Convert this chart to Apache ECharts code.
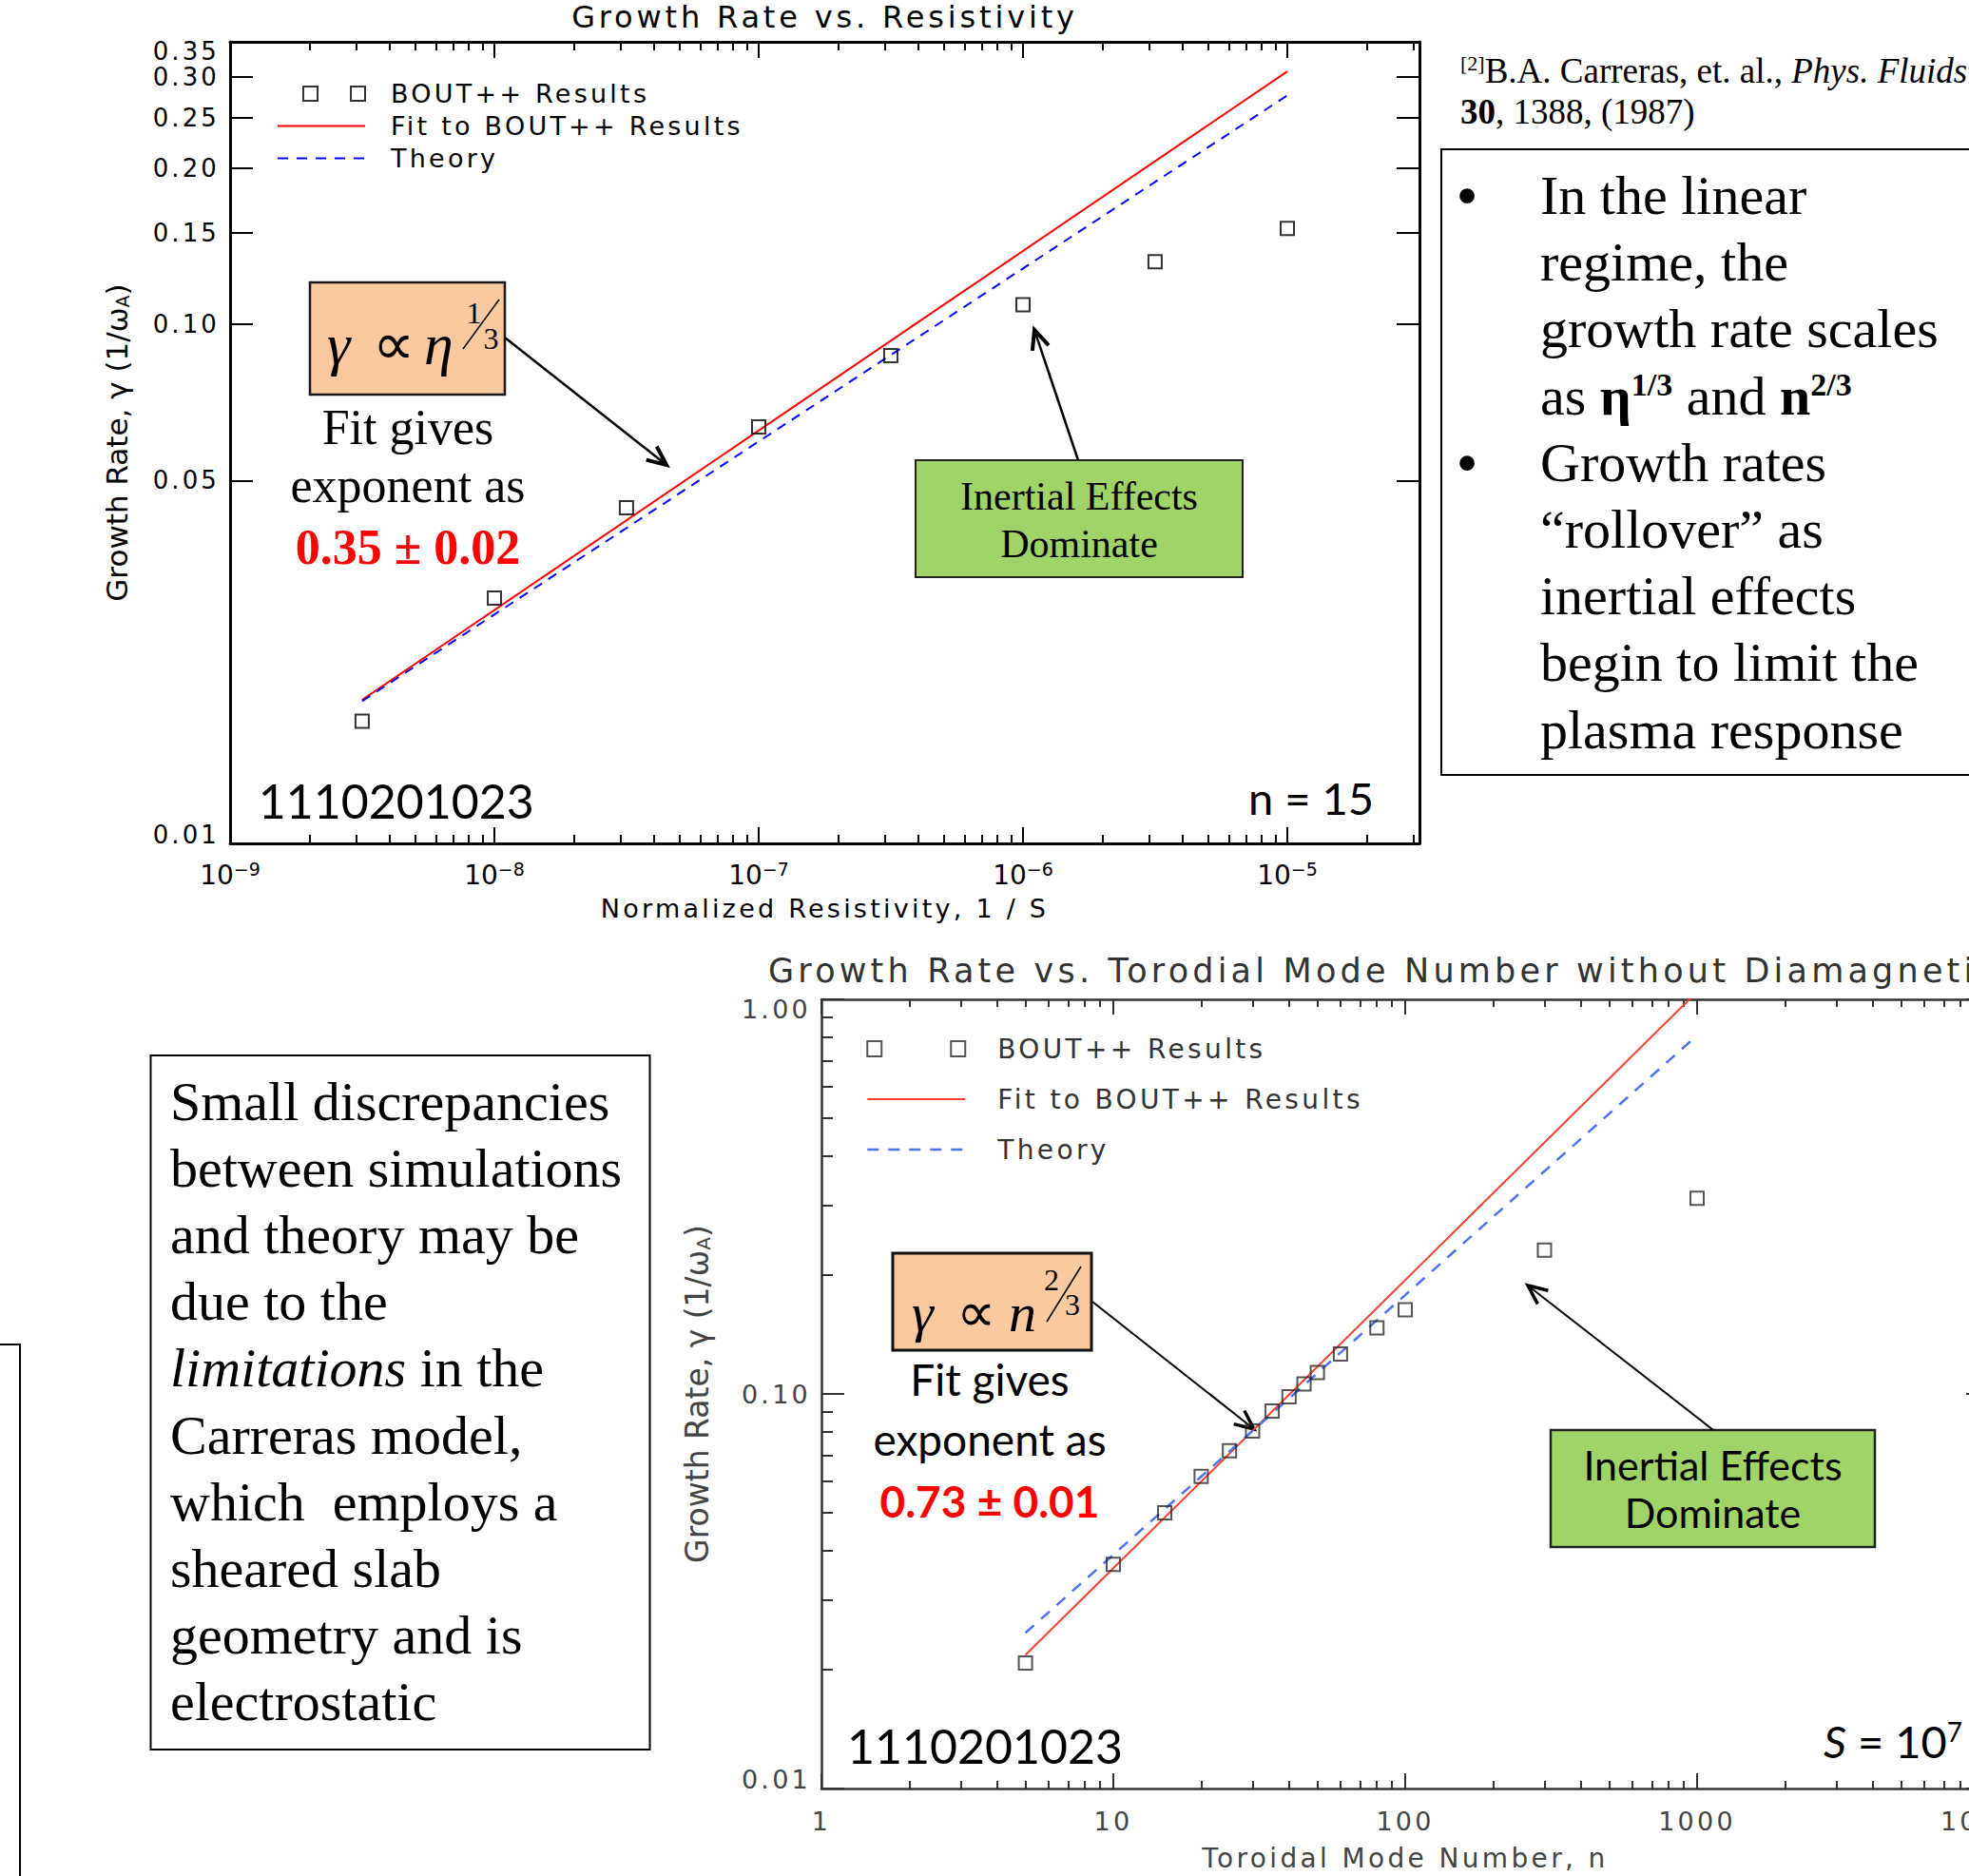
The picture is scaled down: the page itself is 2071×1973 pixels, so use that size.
<!DOCTYPE html>
<html lang="en">
<head>
<meta charset="utf-8">
<title>Growth rate scaling</title>
<script src="https://cdn.jsdelivr.net/npm/echarts@6.0.0/dist/echarts.min.js"></script>
<style>
  html, body { margin: 0; padding: 0; background: #fff; overflow: hidden; }
  #chart { width: 2160px; height: 1973px; }
  /* plot lettering (titles, legends, tick labels) is set with wide tracking */
  #chart text[style*="DejaVu"]:not([style*="Verdana"]) { letter-spacing: 0.12em; }
</style>
</head>
<body>
<div id="chart"></div>
<script>
// ---- Growth rate vs. resistivity (n = 15) ----
const resistivity = [3.16e-9, 1e-8, 3.16e-8, 1e-7, 3.16e-7, 1e-6, 3.16e-6, 1e-5];
const growthVsEta = [0.0172, 0.0297, 0.0443, 0.0634, 0.0870, 0.109, 0.132, 0.153];
const etaFitX = [3.16e-9, 1e-5];
const etaFitY = [0.0189, 0.307];
const etaTheoryY = [0.0188, 0.276];
const etaXRange = [1e-9, 3.162e-5];
const etaYRange = [0.01, 0.35];
const etaXTicks = [1e-9, 1e-8, 1e-7, 1e-6, 1e-5];
const etaYTicks = [0.01, 0.05, 0.10, 0.15, 0.20, 0.25, 0.30, 0.35];

// ---- Growth rate vs. toroidal mode number (S = 10^7) ----
const modeNumber = [5, 10, 15, 20, 25, 30, 35, 40, 45, 50, 60, 80, 100, 300, 1000];
const growthVsN = [0.0208, 0.0370, 0.0500, 0.0618, 0.0718, 0.0805, 0.0905, 0.0984, 0.106, 0.1133, 0.1262, 0.147, 0.1634, 0.2316, 0.313];
const nFitX = [5, 1000];
const nFitY = [0.0218, 1.045];
const nTheoryY = [0.0248, 0.810];
const nXRange = [1, 10000];
const nYRange = [0.01, 1.00];
const nXTicks = [1, 10, 100, 1000, 10000];
const nYTicks = [0.01, 0.10, 1.00];

const legendNames = ['BOUT++ Results', 'Fit to BOUT++ Results', 'Theory'];

// ---- fonts and colours ----
const SP = 'DejaVu Sans';            // tracked plot lettering
const NS = 'Verdana, DejaVu Sans';   // untracked plot lettering
const SERIF = 'Liberation Serif';
const SANS = 'Lato';
const TOP = '#000', BOT = '#333', BOT_TXT = '#444';

const lg = Math.log10;
const pairs = (xs, ys) => xs.map((x, i) => [lg(x), lg(ys[i])]);

// 2..9 x 10^k positions (log10 space) strictly inside a range
function minorTicks(range) {
  const lo = Math.floor(lg(range[0])), hi = Math.ceil(lg(range[1]));
  const out = [];
  for (let p = lo; p < hi; p++) {
    for (let k = 2; k <= 9; k++) {
      const v = lg(k * Math.pow(10, p));
      if (v > lg(range[0]) + 1e-9 && v < lg(range[1]) - 1e-9) out.push(v);
    }
  }
  return out;
}

// value axis laid out in log10 space, ticks drawn inward
function logAxis(gridIndex, position, range, o) {
  return {
    type: 'value', gridIndex, position,
    min: lg(range[0]), max: lg(range[1]),
    axisLine: { show: !!o.line, onZero: false, lineStyle: { color: o.color, width: o.lineWidth || 2 } },
    axisTick: o.ticks
      ? { show: true, inside: true, length: o.len, customValues: o.ticks, lineStyle: { color: o.color, width: 2 } }
      : { show: false },
    axisLabel: o.label ? Object.assign({ show: true, showMinLabel: true, showMaxLabel: true, hideOverlap: false }, o.label) : { show: false },
    splitLine: { show: false },
    name: o.name, nameLocation: 'middle', nameGap: o.nameGap, nameTextStyle: o.nameStyle
  };
}

// end labels sit inside the frame, the others centred on their tick
function yLabel(range) {
  const lo = lg(range[0]), hi = lg(range[1]);
  return v => {
    const s = Math.pow(10, v).toFixed(2);
    if (Math.abs(v - hi) < 1e-9) return '{dn|' + s + '}';
    if (Math.abs(v - lo) < 1e-9) return '{up|' + s + '}';
    return '{m|' + s + '}';
  };
}
function yRich(size, color, downShift, upShift) {
  const base = { fontFamily: SP, fontSize: size, color };
  return {
    m: base,
    dn: Object.assign({ lineHeight: 14, padding: [2 * downShift, 0, 0, 0] }, base),
    up: Object.assign({ lineHeight: 14, padding: [0, 0, 2 * upShift, 0] }, base)
  };
}
const yName = 'Growth Rate, \u03b3 (1/\u03c9{sub|A})';
function yNameStyle(color, size) {
  return { fontFamily: NS, fontSize: size, lineHeight: size, color,
    rich: { sub: { fontFamily: NS, fontSize: Math.round(size * 0.6), lineHeight: 14, verticalAlign: 'bottom', color } } };
}

const etaMajX = etaXTicks.map(lg), etaMajY = etaYTicks.map(lg);
const nMajX = nXTicks.map(lg), nMajY = nYTicks.map(lg);
// the top value label sits just under the frame, so it is carried by its own label axis
const etaYLabelsLow = etaMajY.slice(0, -1);
const etaYLabelTop = etaMajY.slice(-1);

const xAxes = [
  logAxis(0, 'bottom', etaXRange, { line: true, color: TOP, lineWidth: 3, len: 17, ticks: etaMajX,
    label: { customValues: etaMajX, margin: 17,
      formatter: v => '{b|10}{s|\u2212' + Math.round(-v) + '}',
      rich: { b: { fontFamily: NS, fontSize: 28, lineHeight: 30, verticalAlign: 'bottom', color: TOP },
              s: { fontFamily: NS, fontSize: 19, lineHeight: 14, verticalAlign: 'top', color: TOP } } },
    name: 'Normalized Resistivity, 1 / S', nameGap: 55,
    nameStyle: { fontFamily: SP, fontSize: 27, color: TOP } }),
  logAxis(0, 'bottom', etaXRange, { color: TOP, len: 9, ticks: minorTicks(etaXRange) }),
  logAxis(0, 'top', etaXRange, { line: true, color: TOP, lineWidth: 3, len: 17, ticks: etaMajX }),
  logAxis(0, 'top', etaXRange, { color: TOP, len: 9, ticks: minorTicks(etaXRange) }),

  logAxis(1, 'bottom', nXRange, { line: true, color: BOT, lineWidth: 2.5, len: 16, ticks: nMajX,
    label: { customValues: nMajX, margin: 21, fontFamily: SP, fontSize: 27, color: BOT_TXT,
      formatter: v => String(Math.round(Math.pow(10, v))) },
    name: 'Toroidal Mode Number, n', nameGap: 59,
    nameStyle: { fontFamily: SP, fontSize: 28, color: BOT_TXT } }),
  logAxis(1, 'bottom', nXRange, { color: BOT, len: 8, ticks: minorTicks(nXRange) }),
  logAxis(1, 'top', nXRange, { line: true, color: BOT, lineWidth: 2.5, len: 16, ticks: nMajX }),
  logAxis(1, 'top', nXRange, { color: BOT, len: 8, ticks: minorTicks(nXRange) })
];

const yAxes = [
  logAxis(0, 'left', etaYRange, { line: true, color: TOP, lineWidth: 3, len: 24, ticks: etaMajY,
    label: { customValues: etaYLabelsLow, margin: 11, formatter: yLabel(etaYRange), rich: yRich(26, TOP, 10, 9) },
    name: yName, nameGap: 104, nameStyle: yNameStyle(TOP, 31) }),
  logAxis(0, 'right', etaYRange, { line: true, color: TOP, lineWidth: 3, len: 24, ticks: etaMajY }),

  logAxis(1, 'left', nYRange, { line: true, color: BOT, lineWidth: 2.5, len: 24, ticks: nMajY,
    label: { customValues: nMajY, margin: 11, formatter: yLabel(nYRange), rich: yRich(27, BOT_TXT, 10, 10) },
    name: yName, nameGap: 114, nameStyle: yNameStyle(BOT_TXT, 33) }),
  logAxis(1, 'left', nYRange, { color: BOT, len: 12, ticks: minorTicks(nYRange) }),
  logAxis(1, 'right', nYRange, { line: true, color: BOT, lineWidth: 2.5, len: 24, ticks: nMajY }),
  logAxis(1, 'right', nYRange, { color: BOT, len: 12, ticks: minorTicks(nYRange) }),

  logAxis(0, 'left', etaYRange, { color: TOP, ticks: null,
    label: { customValues: etaYLabelTop, margin: 11, formatter: yLabel(etaYRange), rich: yRich(26, TOP, 10, 9) } })
];

const hollow = (c) => ({ color: 'rgba(255,255,255,0)', borderColor: c, borderWidth: 2 });
const noMarker = { color: 'rgba(0,0,0,0)', borderColor: 'rgba(0,0,0,0)', opacity: 0 };

const series = [
  { name: legendNames[0], type: 'scatter', xAxisIndex: 0, yAxisIndex: 0, z: 4,
    data: pairs(resistivity, growthVsEta), symbol: 'rect', symbolSize: 14, itemStyle: hollow('#000') },
  { name: legendNames[1], type: 'line', xAxisIndex: 0, yAxisIndex: 0, symbol: 'none',
    data: pairs(etaFitX, etaFitY), lineStyle: { color: '#ff0000', width: 2 }, itemStyle: { color: '#ff0000' } },
  { name: legendNames[2], type: 'line', xAxisIndex: 0, yAxisIndex: 0, symbol: 'none',
    data: pairs(etaFitX, etaTheoryY), lineStyle: { color: '#0000ff', width: 2, type: [10, 8] }, itemStyle: { color: '#0000ff' } },

  { name: legendNames[0], type: 'scatter', xAxisIndex: 4, yAxisIndex: 2, z: 4,
    data: pairs(modeNumber, growthVsN), symbol: 'rect', symbolSize: 14, itemStyle: hollow('#2a2a2a') },
  { name: legendNames[1], type: 'line', xAxisIndex: 4, yAxisIndex: 2, symbol: 'none',
    data: pairs(nFitX, nFitY), lineStyle: { color: '#f5402e', width: 2 }, itemStyle: { color: '#f5402e' } },
  { name: legendNames[2], type: 'line', xAxisIndex: 4, yAxisIndex: 2, symbol: 'none',
    data: pairs(nFitX, nTheoryY), lineStyle: { color: '#4b73f2', width: 2.5, type: [12, 10] }, itemStyle: { color: '#4b73f2' } }
];

function legendBlock(left, top, gap, itemWidth, itemHeight, textSize, textColor, pad, icon, sq, fit, theory) {
  return {
    left, top, orient: 'vertical', padding: 0, itemGap: gap, itemWidth, itemHeight, selectedMode: false,
    formatter: '{t|{name}}',
    textStyle: { rich: { t: { fontFamily: SP, fontSize: textSize, color: textColor, padding: [0, 0, 0, pad] } } },
    data: [
      { name: legendNames[0], icon, itemStyle: hollow(sq) },
      { name: legendNames[1], lineStyle: fit, itemStyle: noMarker },
      { name: legendNames[2], lineStyle: theory, itemStyle: noMarker }
    ]
  };
}

// ---- annotation helpers ----
function label(x, baseline, text, fam, size, extra) {
  const k = fam === SERIF ? 0.3375 : 0.387;
  return { type: 'text', silent: true,
    style: Object.assign({ text, x, y: baseline - k * size, fontFamily: fam, fontSize: size, fill: '#000',
      textAlign: 'left', textVerticalAlign: 'middle' }, extra || {}) };
}
function box(x, y, w, h, fill, stroke, lw) {
  return { type: 'rect', silent: true, shape: { x, y, width: w, height: h }, style: { fill, stroke, lineWidth: lw } };
}
function seg(x1, y1, x2, y2, lw) {
  return { type: 'line', silent: true, shape: { x1, y1, x2, y2 }, style: { stroke: '#000', lineWidth: lw } };
}
function arrow(x1, y1, x2, y2, lw, head) {
  const a = Math.atan2(y2 - y1, x2 - x1), s = 0.42;
  return [seg(x1, y1, x2, y2, lw), { type: 'polyline', silent: true,
    shape: { points: [[x2 - head * Math.cos(a - s), y2 - head * Math.sin(a - s)], [x2, y2],
                      [x2 - head * Math.cos(a + s), y2 - head * Math.sin(a + s)]] },
    style: { stroke: '#000', lineWidth: lw + 1.5, fill: null } }];
}
const C = { textAlign: 'center' };
const IT = { fontStyle: 'italic' };

const bulletLines = [
  'In the linear', 'regime, the', 'growth rate scales',
  'as {b|\u03b7}{p|1/3} and {b|n}{p|2/3}',
  'Growth rates', '\u201crollover\u201d as', 'inertial effects', 'begin to limit the', 'plasma response'
];
const noteLines = [
  'Small discrepancies', 'between simulations', 'and theory may be', 'due to the',
  '{i|limitations} in the', 'Carreras model,', 'which  employs a', 'sheared slab',
  'geometry and is', 'electrostatic'
];
const serifRich = {
  b: { fontFamily: SERIF, fontSize: 58, fontWeight: 'bold', lineHeight: 58 },
  p: { fontFamily: SERIF, fontSize: 34, fontWeight: 'bold', lineHeight: 40, verticalAlign: 'top' },
  i: { fontFamily: SERIF, fontSize: 58, fontStyle: 'italic', lineHeight: 58 }
};

const elements = [
  // resistivity scan annotations
  box(326, 297, 205, 118, '#fac9a0', '#1a1a1a', 2.5),
  label(344, 383, '\u03b3', SERIF, 62, IT),
  label(392, 383, '\u221d', SERIF, 62),
  label(446, 383, '\u03b7', SERIF, 62, IT),
  label(498.5, 340, '1', SERIF, 32, C),
  label(516.5, 367, '3', SERIF, 32, C),
  seg(525, 315, 487, 367, 1.5),
  label(429, 466.7, 'Fit gives', SERIF, 52, C),
  label(429, 528.3, 'exponent as', SERIF, 52, C),
  label(429, 593.3, '0.35 \u00b1 0.02', SERIF, 52, { textAlign: 'center', fontWeight: 'bold', fill: '#ff0000' }),
  ...arrow(531, 355, 701, 489, 2.5, 22),
  box(963, 484, 344, 123, '#a0d468', '#222', 2),
  label(1135, 536.3, 'Inertial Effects', SERIF, 42, C),
  label(1135, 586, 'Dominate', SERIF, 42, C),
  ...arrow(1134, 484, 1088, 347, 2.5, 22),
  label(416.7, 861.7, '1110201023', SANS, 50, C),
  label(1445, 857.5, 'n = 15', SANS, 47, { textAlign: 'right' }),

  // mode number scan annotations
  box(939, 1318, 209, 102, '#fac9a0', '#111', 3),
  label(959, 1400, '\u03b3', SERIF, 58, IT),
  label(1006, 1400, '\u221d', SERIF, 58),
  label(1061, 1400, 'n', SERIF, 58, IT),
  label(1106, 1357, '2', SERIF, 32, C),
  label(1128, 1383, '3', SERIF, 32, C),
  seg(1137, 1332, 1101, 1390, 1.5),
  label(1041, 1468.3, 'Fit gives', SANS, 46, C),
  label(1041, 1531.7, 'exponent as', SANS, 46, C),
  label(1041, 1596, '0.73 \u00b1 0.01', SANS, 46, { textAlign: 'center', fontWeight: 'bold', fill: '#ff0000' }),
  ...arrow(1149, 1369, 1319, 1503, 2, 22),
  box(1631, 1504, 341, 123, '#a0d468', '#222', 2.5),
  label(1801.5, 1556.7, 'Inertial Effects', SANS, 43, C),
  label(1801.5, 1606.8, 'Dominate', SANS, 43, C),
  ...arrow(1802, 1504, 1607, 1352, 2, 22),
  label(1036, 1855, '1110201023', SANS, 50, C),
  label(1918, 1849, '{i|S} = 10{p|7}', SANS, 47, { lineHeight: 47, rich: {
    i: { fontFamily: SANS, fontSize: 47, fontStyle: 'italic', lineHeight: 47 },
    p: { fontFamily: SANS, fontSize: 28, lineHeight: 22, verticalAlign: 'top' } } }),

  // reference
  label(1536, 86.5, '{s|[2]}B.A. Carreras, et. al., {i|Phys. Fluids}', SERIF, 37, { lineHeight: 37, rich: {
    s: { fontFamily: SERIF, fontSize: 22, lineHeight: 24, verticalAlign: 'top' },
    i: { fontFamily: SERIF, fontSize: 37, fontStyle: 'italic', lineHeight: 37 } } }),
  label(1536, 130, '{b|30}, 1388, (1987)', SERIF, 37, { lineHeight: 37, rich: {
    b: { fontFamily: SERIF, fontSize: 37, fontWeight: 'bold', lineHeight: 37 } } }),

  // summary bullets
  box(1516, 157, 700, 658, 'none', '#000', 2),
  label(1543, 228, '\u2022', SERIF, 66, C),
  label(1543, 228 + 4 * 70.2, '\u2022', SERIF, 66, C),
  ...bulletLines.map((t, i) => label(1620, 225 + i * 70.2, t, SERIF, 58, { lineHeight: 58, rich: serifRich })),

  // discrepancy note
  box(158.5, 1110, 525, 730, 'none', '#000', 2),
  ...noteLines.map((t, i) => label(179, 1177.6 + i * 70.2, t, SERIF, 58, { lineHeight: 58, rich: serifRich })),
  { type: 'polyline', silent: true, shape: { points: [[-5, 1414], [21, 1414], [21, 1990]] },
    style: { stroke: '#000', lineWidth: 2, fill: null } }
];

const option = {
  animation: false,
  backgroundColor: '#fff',
  title: [
    { text: 'Growth Rate vs. Resistivity', left: 867.5, top: 1.5, textAlign: 'center', padding: 0,
      textStyle: { fontFamily: SP, fontSize: 32, fontWeight: 'normal', color: '#000' } },
    { text: 'Growth Rate vs. Torodial Mode Number without Diamagnetism', left: 808, top: 1003, textAlign: 'left', padding: 0,
      textStyle: { fontFamily: SP, fontSize: 35, fontWeight: 'normal', color: '#333' } }
  ],
  grid: [
    { left: 242, top: 44, width: 1251, height: 843 },
    { left: 864, top: 1051, width: 1228, height: 830 }
  ],
  legend: [
    legendBlock(291, 85, 7, 92, 15, 27, '#000', 22,
      'path://M0,7.5L0,7.5M27,0h15v15h-15zM77,0h15v15h-15z', '#000',
      { color: '#ff0000', width: 2 }, { color: '#0000ff', width: 2, type: [11, 9] }),
    legendBlock(911, 1089, 25, 103, 16, 28, '#333', 29,
      'path://M0,0h15v16h-15zM88,0h15v16h-15z', '#2a2a2a',
      { color: '#f5402e', width: 2 }, { color: '#4b73f2', width: 2.5, type: [12, 10] })
  ],
  xAxis: xAxes,
  yAxis: yAxes,
  series,
  graphic: { elements }
};

const chart = echarts.init(document.getElementById('chart'), null, { renderer: 'svg' });
chart.setOption(option);
</script>
</body>
</html>
